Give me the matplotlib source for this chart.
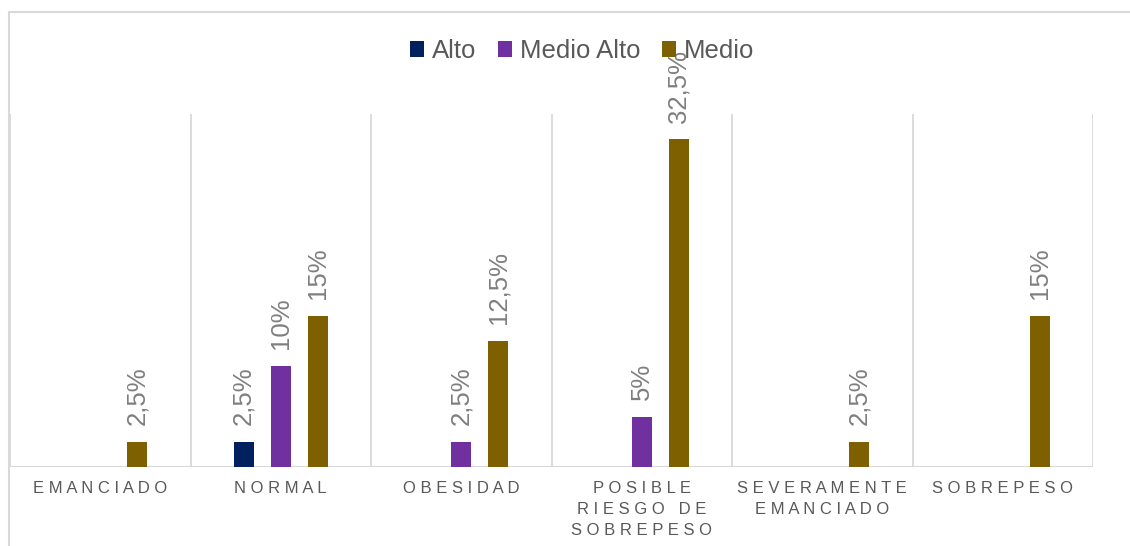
import matplotlib
matplotlib.use("Agg")
import matplotlib.pyplot as plt
from matplotlib.patches import Patch, Rectangle
import numpy as np

plt.rcParams['font.family'] = ['Liberation Sans', 'DejaVu Sans']

categories = ["EMANCIADO", "NORMAL", "OBESIDAD", "POSIBLE\nRIESGO DE\nSOBREPESO",
              "SEVERAMENTE\nEMANCIADO", "SOBREPESO"]
series_names = ["Alto", "Medio Alto", "Medio"]
alto = [None, 2.5, None, None, None, None]
medio_alto = [None, 10, 2.5, 5, None, None]
medio = [2.5, 15, 12.5, 32.5, 2.5, 15]
value_labels = {
    "Alto": [None, "2,5%", None, None, None, None],
    "Medio Alto": [None, "10%", "2,5%", "5%", None, None],
    "Medio": ["2,5%", "15%", "12,5%", "32,5%", "2,5%", "15%"],
}
colors = ["#002060", "#7030A0", "#7F6000"]

W, H = 1130, 546
fig = plt.figure(figsize=(W / 100, H / 100), dpi=100)
ax = fig.add_axes([10 / W, (H - 467) / H, (1093 - 10) / W, (467 - 114) / H])

x = np.arange(len(categories)) + 0.5
bar_w = 0.111
offsets = [-0.205, 0.0, 0.205]
grid_c = "#D9D9D9"

for vals, name, col, off in zip([alto, medio_alto, medio], series_names, colors, offsets):
    for i, v in enumerate(vals):
        if v is None:
            continue
        ax.bar(x[i] + off, v, width=bar_w, color=col, zorder=3)
        ax.annotate(value_labels[name][i], (x[i] + off, v), xytext=(0, 12),
                    textcoords="offset points", rotation=90, ha="center", va="bottom",
                    fontsize=18.5, color="#7F7F7F", zorder=4, annotation_clip=False)

ax.set_xlim(0, len(categories))
ax.set_ylim(0, 35)
for b in range(0, len(categories) + 1):
    ax.axvline(b, color=grid_c, lw=1.3, zorder=1)
ax.axhline(0, color=grid_c, lw=1.5, zorder=2)
for s in ax.spines.values():
    s.set_visible(False)
ax.set_yticks([])
ax.set_xticks([])

# letter-spaced category labels
for xi, cat in zip(x, categories):
    spaced = "\n".join(" ".join(list(line)) for line in cat.split("\n"))
    ax.text(xi, -1.4, spaced, ha="center", va="top", fontsize=12,
            color="#595959", linespacing=1.5, transform=ax.transData)

# chart frame
fig.patches.append(Rectangle((9 / W, -0.1), 1.2, (H - 12) / H + 0.1, transform=fig.transFigure,
                             fill=False, edgecolor=grid_c, lw=1.5))

handles = [Patch(facecolor=c, edgecolor="none") for c in colors]
fig.legend(handles, series_names, loc="center", bbox_to_anchor=(582 / W, (H - 51) / H),
           ncol=3, frameon=False, fontsize=18.5, handlelength=0.55, handleheight=0.55,
           handletextpad=0.3, columnspacing=0.85, labelcolor="#595959")

fig.savefig("out.png", dpi=100)
